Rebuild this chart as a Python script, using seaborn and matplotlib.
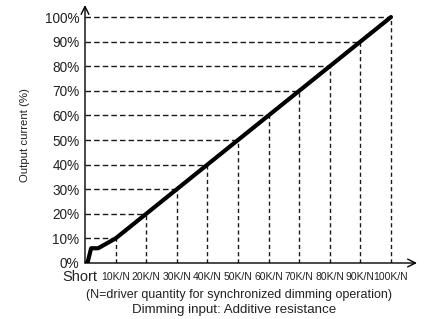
import matplotlib
matplotlib.use("Agg")
import matplotlib.pyplot as plt
from matplotlib import font_manager
import seaborn as sns
import pandas as pd

# ---- data ----
curve_x = [0, 0.8, 2.0, 4.3, 10, 100]
curve_y = [0, 0, 6, 6, 10, 100]
levels = [10, 20, 30, 40, 50, 60, 70, 80, 90, 100]
y_ticks = [0, 10, 20, 30, 40, 50, 60, 70, 80, 90, 100]
y_labels = ["0%", "10%", "20%", "30%", "40%", "50%", "60%", "70%", "80%", "90%", "100%"]
x_labels = ["10K/N", "20K/N", "30K/N", "40K/N", "50K/N", "60K/N", "70K/N", "80K/N", "90K/N", "100K/N"]
zero_label = "Short"
y_title = "Output current (%)"
note = "(N=driver quantity for synchronized dimming operation)"
x_title = "Dimming input: Additive resistance"

sns.set_style("white")
plt.rcParams["font.family"] = ["Liberation Sans", "DejaVu Sans"]
txt = "#222222"

fig = plt.figure(figsize=(4.38, 3.19), dpi=100)
ax = fig.add_axes([85 / 438, 1 - 263 / 319, (417 - 85) / 438, (263 - 5) / 319])
ax.set_xlim(0, 108.5)
ax.set_ylim(0, 104.9)

# dashed guide lines
for lv in levels:
    ax.plot([0, lv], [lv, lv], color="#1a1a1a", lw=1.0, dashes=(4, 2.2), zorder=1)
    ax.plot([lv, lv], [0, lv], color="#1a1a1a", lw=1.0, dashes=(3, 2.2), zorder=1)

df = pd.DataFrame({"x": curve_x, "y": curve_y})
sns.lineplot(data=df, x="x", y="y", ax=ax, color="black", lw=3.0, sort=False,
             estimator=None, zorder=3)
ax.set_xlabel("")
ax.set_ylabel("")

for s in ax.spines.values():
    s.set_visible(False)
ax.annotate("", xy=(1, 0), xytext=(0, 0), xycoords="axes fraction",
            arrowprops=dict(arrowstyle="->", lw=1.0, color="black", mutation_scale=14,
                            shrinkA=0, shrinkB=0))
ax.annotate("", xy=(0, 1), xytext=(0, 0), xycoords="axes fraction",
            arrowprops=dict(arrowstyle="->", lw=1.0, color="black", mutation_scale=14,
                            shrinkA=0, shrinkB=0))

ax.set_yticks(y_ticks)
ax.set_yticklabels(y_labels, fontsize=9.8, color=txt)
ax.set_xticks(levels)
ax.set_xticklabels(x_labels, fontsize=7.5, color=txt)
ax.tick_params(axis="both", length=0)
ax.tick_params(axis="y", pad=4)
ax.tick_params(axis="x", pad=6.5)

ax.annotate(zero_label, xy=(0, 0), xycoords="data", xytext=(-5, -14),
            textcoords="offset pixels", ha="center", va="center", fontsize=10.5, color=txt)

fig.text(239 / 438, 1 - 295 / 319, note, ha="center", va="center", fontsize=9.0, color=txt)
fig.text(234 / 438, 1 - 310 / 319, x_title, ha="center", va="center", fontsize=9.6, color=txt)
fig.text(25 / 438, 1 - 135 / 319, y_title, ha="center", va="center", rotation=90,
         fontsize=8.2, color=txt)

fig.savefig("out.png", dpi=100)
